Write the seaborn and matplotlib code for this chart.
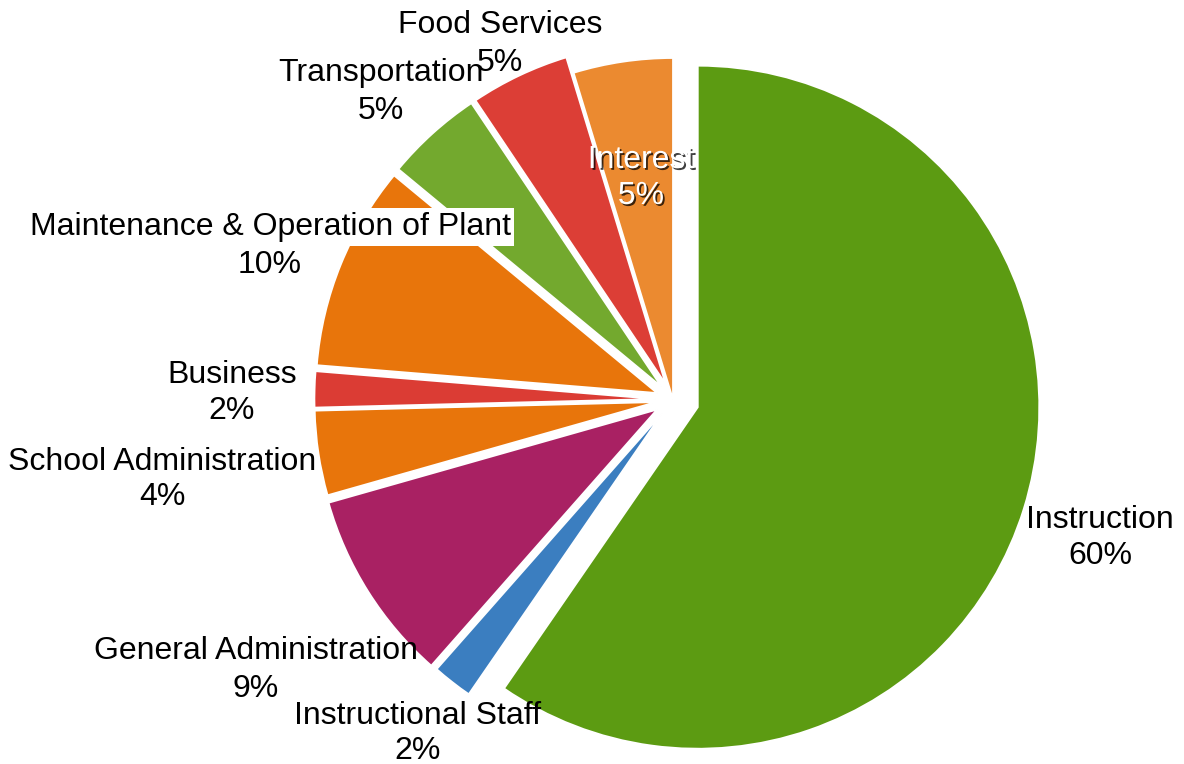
import matplotlib
matplotlib.use("Agg")
import matplotlib.pyplot as plt
import matplotlib.patheffects as pe
import seaborn as sns

# ---- data ----
categories = ["Instruction", "Instructional Staff", "General Administration",
              "School Administration", "Business",
              "Maintenance & Operation of Plant", "Transportation",
              "Food Services", "Interest"]
shares = [59.6, 1.9, 9.1, 4.0, 1.7, 9.7, 4.6, 4.7, 4.7]
pct_labels = [f"{round(v)}%" for v in shares]

colors = ["#5c9b12", "#3b7ec0", "#a92163", "#e8750b", "#db3c34",
          "#e8750b", "#73a92e", "#dc3e36", "#eb8a30"]
explode = [0.076, 0.05, 0.055, 0.05, 0.05, 0.05, 0.05, 0.05, 0.0]

# label anchor positions in pixels: (x centre, name baseline, pct baseline)
label_px = [(1100, 528, 564), (418, 724, 759), (256, 659, 697),
            (162, 470, 505), (232, 383, 419), (270, 235, 273),
            (381, 81, 119), (500, 33, 71), (641, 168, 204)]

W, H = 1184, 764
CX, CY, R = 673.0, 399.5, 341.5

sns.set_theme(style="white")
plt.rcParams["font.family"] = ["Liberation Sans", "DejaVu Sans"]
sns.set_palette(colors)

fig = plt.figure(figsize=(W / 100, H / 100), dpi=100)
ax = fig.add_axes([0, 0, 1, 1])
ax.pie(shares, colors=sns.color_palette(colors), explode=explode,
       startangle=90, counterclock=False, radius=1.0,
       wedgeprops=dict(edgecolor="white", linewidth=1.3))
ax.set_xlim(-CX / R, (W - CX) / R)
ax.set_ylim((CY - H) / R, CY / R)
ax.set_aspect("equal")
ax.axis("off")


def to_data(px, py):
    return (px - CX) / R, (CY - py) / R


fs = 23
for i, (name, pct) in enumerate(zip(categories, pct_labels)):
    x0, yn, yp = label_px[i]
    xn, ydn = to_data(x0, yn)
    _, ydp = to_data(x0, yp)
    kw = dict(ha="center", va="baseline", fontsize=fs, color="black")
    if name == "Interest":
        kw["color"] = "white"
        kw["path_effects"] = [pe.withSimplePatchShadow(offset=(1.3, -1.3),
                                                       shadow_rgbFace="black",
                                                       alpha=0.75)]
    t = ax.text(xn, ydn, name, **kw)
    if name.startswith("Maintenance"):
        t.set_bbox(dict(facecolor="white", edgecolor="none",
                        boxstyle="square,pad=0.12"))
    ax.text(xn, ydp, pct, **kw)

fig.savefig("out.png", dpi=100, facecolor="white")
